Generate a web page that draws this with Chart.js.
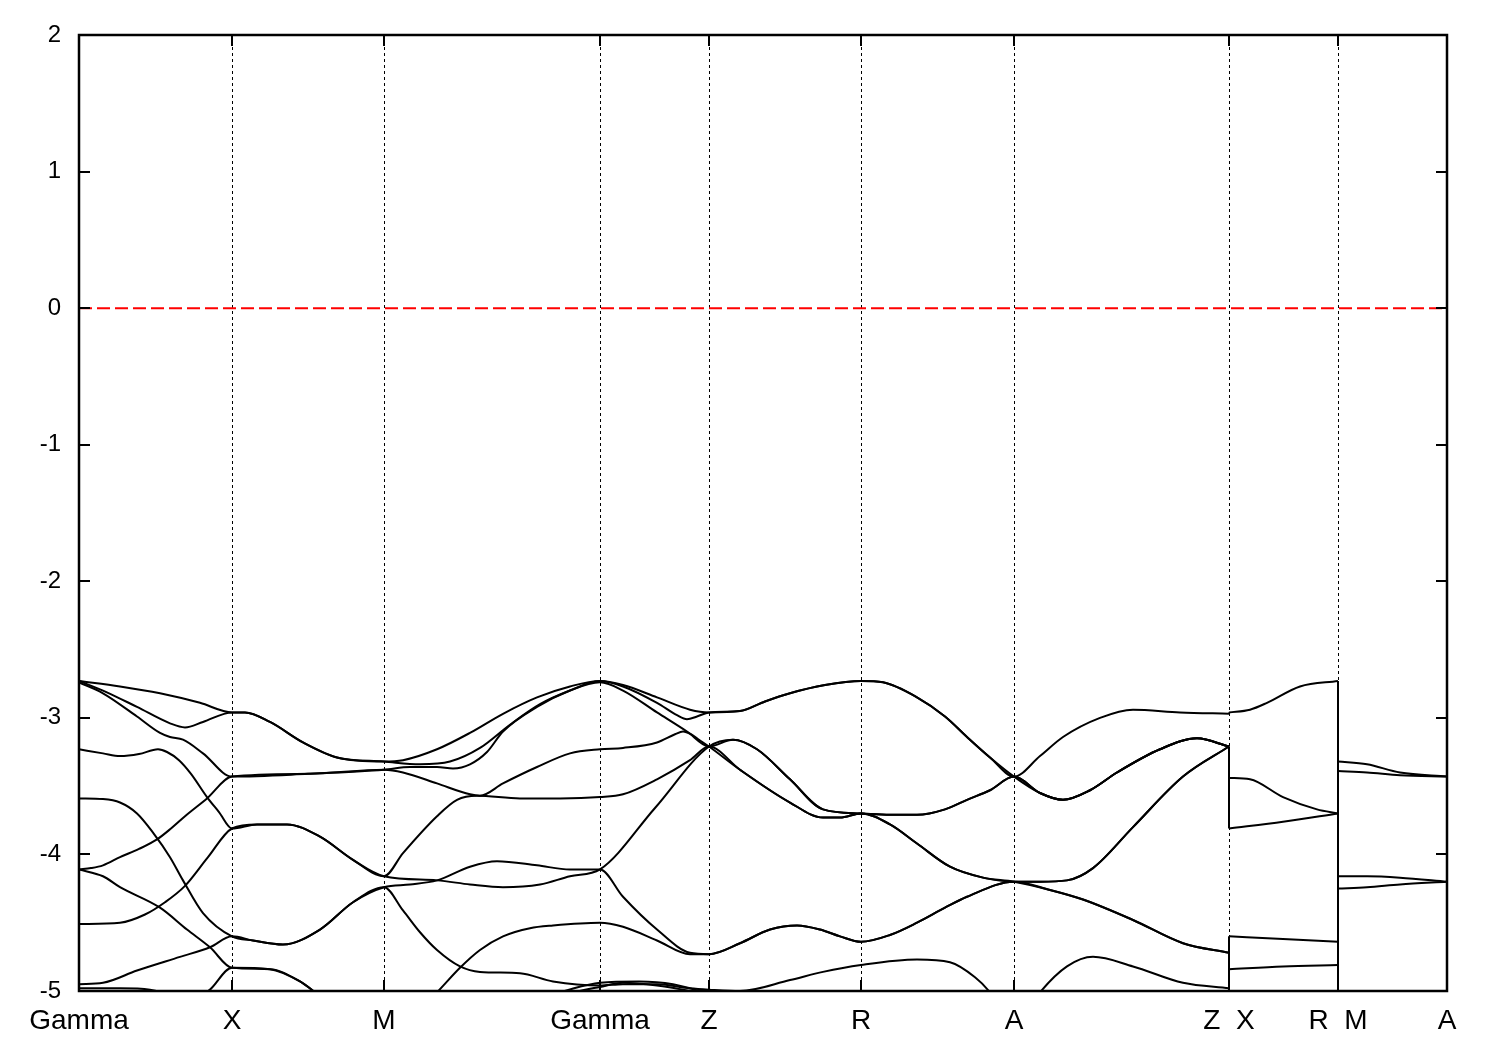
<!DOCTYPE html>
<html>
<head>
<meta charset="utf-8">
<script src="https://cdn.jsdelivr.net/npm/chart.js@4.4.0/dist/chart.umd.min.js"></script>
<style>
html,body{margin:0;padding:0;background:#fff;}
#wrap{width:1500px;height:1050px;}
</style>
</head>
<body>
<div id="wrap"><canvas id="c" width="1500" height="1050"></canvas></div>
<script>
// high-symmetry points along the k-path (path units) and their labels
const kPoints = [0, 153, 305, 521, 630, 782, 935, 1150, 1259, 1368];
const kLabels = ['Gamma', 'X', 'M', 'Gamma', 'Z', 'R', 'A', 'Z  X', 'R  M', 'A'];
const yTicks = [-5, -4, -3, -2, -1, 0, 1, 2];
const fermiLevel = 0;

// section Gamma-X-M-Gamma-Z-R-A-Z : [k, E(eV)]
const c1 = [[0,-2.73],[41,-2.77],[81,-2.82],[121,-2.89],[153,-2.96],[166,-2.96],[191,-3.03],[224,-3.18],[258,-3.29],[305,-3.32],[324,-3.31],[358,-3.23],[391,-3.11],[424,-2.97],[458,-2.85],[491,-2.77],[521,-2.73],[544,-2.76],[578,-2.85],[611,-2.94],[630,-2.96],[661,-2.95],[686,-2.88],[711,-2.82],[746,-2.76],[782,-2.73],[804,-2.74],[838,-2.85],[866,-2.99],[888,-3.14],[911,-3.29],[935,-3.43],[961,-3.28],[984,-3.14],[1021,-3.00],[1054,-2.94],[1101,-2.96],[1150,-2.97]];
const c2 = [[0,-2.73],[24,-2.80],[58,-2.92],[91,-3.04],[106,-3.07],[124,-3.03],[153,-2.96],[166,-2.96],[191,-3.03],[224,-3.18],[258,-3.29],[305,-3.32],[341,-3.34],[371,-3.32],[401,-3.22],[431,-3.05],[461,-2.90],[491,-2.80],[521,-2.73],[544,-2.77],[578,-2.89],[598,-2.98],[608,-3.01],[618,-2.99],[630,-2.96],[661,-2.95],[686,-2.88],[711,-2.82],[746,-2.76],[782,-2.73],[804,-2.74],[838,-2.85],[866,-2.99],[888,-3.14],[911,-3.29],[935,-3.43],[961,-3.55],[984,-3.60],[1011,-3.53],[1038,-3.40],[1081,-3.23],[1118,-3.15],[1150,-3.21]];
const c3 = [[0,-2.74],[24,-2.82],[58,-2.99],[81,-3.11],[91,-3.14],[104,-3.16],[124,-3.26],[153,-3.43],[229,-3.41],[305,-3.38],[331,-3.36],[358,-3.36],[374,-3.37],[391,-3.34],[408,-3.25],[424,-3.10],[458,-2.92],[491,-2.80],[521,-2.74],[544,-2.80],[578,-2.96],[608,-3.10],[630,-3.21],[654,-3.16],[678,-3.23],[711,-3.45],[744,-3.67],[782,-3.70],[811,-3.71],[838,-3.71],[866,-3.67],[888,-3.60],[911,-3.53],[935,-3.43],[961,-3.55],[984,-3.60],[1011,-3.53],[1038,-3.40],[1081,-3.23],[1118,-3.15],[1150,-3.21]];
const c4 = [[0,-4.11],[12,-4.10],[24,-4.08],[41,-4.02],[60,-3.96],[78,-3.89],[92,-3.81],[106,-3.72],[128,-3.59],[153,-3.43],[229,-3.41],[305,-3.38],[324,-3.40],[358,-3.48],[391,-3.56],[401,-3.57],[424,-3.48],[458,-3.36],[491,-3.26],[521,-3.23],[544,-3.22],[578,-3.18],[596,-3.12],[604,-3.10],[612,-3.12],[620,-3.16],[630,-3.21],[661,-3.38],[711,-3.62],[744,-3.73],[761,-3.73],[782,-3.70],[811,-3.78],[838,-3.92],[871,-4.09],[904,-4.17],[935,-4.20],[961,-4.20],[988,-4.19],[1014,-4.10],[1054,-3.80],[1104,-3.43],[1150,-3.21]];
const c5 = [[0,-3.23],[24,-3.26],[41,-3.28],[60,-3.265],[79,-3.23],[88,-3.25],[100,-3.31],[112,-3.41],[128,-3.58],[140,-3.69],[153,-3.81],[178,-3.78],[208,-3.78],[241,-3.87],[274,-4.04],[305,-4.16],[324,-3.99],[358,-3.72],[378,-3.60],[398,-3.57],[441,-3.59],[481,-3.59],[521,-3.58],[544,-3.56],[578,-3.45],[611,-3.31],[630,-3.21],[661,-3.38],[711,-3.62],[744,-3.73],[761,-3.73],[782,-3.70],[811,-3.78],[838,-3.92],[871,-4.09],[904,-4.17],[935,-4.20],[971,-4.26],[1004,-4.33],[1054,-4.48],[1104,-4.65],[1150,-4.72]];
const c6 = [[0,-4.51],[41,-4.50],[66,-4.44],[86,-4.35],[106,-4.23],[129,-4.02],[153,-3.81],[178,-3.78],[208,-3.78],[241,-3.87],[274,-4.04],[305,-4.16],[358,-4.19],[391,-4.22],[424,-4.24],[461,-4.22],[491,-4.16],[521,-4.11],[576,-3.66],[630,-3.21],[654,-3.16],[678,-3.23],[711,-3.45],[744,-3.67],[782,-3.70],[811,-3.71],[838,-3.71],[866,-3.67],[888,-3.60],[911,-3.53],[935,-3.43],[961,-3.55],[984,-3.60],[1011,-3.53],[1038,-3.40],[1081,-3.23],[1118,-3.15],[1150,-3.21]];
const c7 = [[0,-3.59],[24,-3.595],[41,-3.62],[58,-3.70],[74,-3.84],[91,-4.02],[104,-4.19],[124,-4.43],[153,-4.60],[174,-4.63],[204,-4.66],[241,-4.55],[274,-4.35],[305,-4.24],[331,-4.22],[358,-4.19],[391,-4.09],[418,-4.05],[458,-4.08],[491,-4.11],[521,-4.11],[544,-4.31],[578,-4.55],[611,-4.72],[630,-4.73],[661,-4.65],[691,-4.55],[718,-4.52],[741,-4.55],[761,-4.60],[782,-4.64],[811,-4.59],[838,-4.50],[866,-4.39],[888,-4.31],[935,-4.20],[961,-4.20],[988,-4.19],[1014,-4.10],[1054,-3.80],[1104,-3.43],[1150,-3.21]];
const c8 = [[0,-4.95],[24,-4.94],[58,-4.85],[101,-4.75],[131,-4.68],[153,-4.60],[174,-4.63],[204,-4.66],[241,-4.55],[274,-4.35],[305,-4.24],[324,-4.41],[341,-4.57],[358,-4.70],[381,-4.82],[401,-4.86],[441,-4.87],[474,-4.93],[521,-4.96],[544,-4.95],[578,-4.95],[611,-4.98],[630,-4.99],[661,-5.00],[711,-4.92],[744,-4.86],[782,-4.81],[838,-4.77],[871,-4.79],[896,-4.90],[911,-5.01],[935,-5.28],[961,-5.01],[988,-4.82],[1014,-4.75],[1054,-4.82],[1104,-4.94],[1150,-4.98]];
const c9 = [[0,-4.11],[24,-4.16],[41,-4.24],[81,-4.39],[108,-4.55],[131,-4.68],[153,-4.83],[191,-4.84],[221,-4.93],[236,-5.01],[256,-5.14],[305,-5.35],[336,-5.17],[358,-5.01],[381,-4.83],[401,-4.70],[424,-4.60],[451,-4.54],[474,-4.52],[521,-4.50],[544,-4.53],[578,-4.63],[611,-4.73],[630,-4.73],[661,-4.65],[691,-4.55],[718,-4.52],[741,-4.55],[761,-4.60],[782,-4.64],[811,-4.59],[838,-4.50],[866,-4.39],[888,-4.31],[935,-4.20],[971,-4.26],[1004,-4.33],[1054,-4.48],[1104,-4.65],[1150,-4.72]];
const c10 = [[0,-5.28],[71,-5.21],[111,-5.09],[131,-4.99],[153,-4.83],[191,-4.84],[221,-4.93],[236,-5.01],[256,-5.14],[305,-5.35],[380,-5.30],[441,-5.15],[490,-5.02],[521,-4.97],[544,-4.94],[578,-4.96],[611,-5.00],[630,-5.03],[700,-5.12],[782,-5.20],[935,-5.40],[1150,-5.10]];
const c11 = [[0,-4.98],[41,-4.98],[71,-4.99],[91,-5.03],[121,-5.14],[153,-5.30],[305,-5.50],[441,-5.10],[490,-4.99],[521,-4.94],[560,-4.93],[594,-4.95],[630,-5.02],[700,-5.15],[782,-5.30],[935,-5.45],[1150,-5.20]];

// section X-R
const x1 = [[1150,-2.96],[1171,-2.94],[1188,-2.89],[1221,-2.77],[1259,-2.73]];
const x2 = [[1150,-3.44],[1171,-3.45],[1204,-3.58],[1238,-3.67],[1259,-3.70]];
const x3 = [[1150,-3.81],[1204,-3.76],[1259,-3.70]];
const x4 = [[1150,-4.60],[1204,-4.62],[1259,-4.64]];
const x5 = [[1150,-4.84],[1204,-4.82],[1259,-4.81]];

// section M-A
const m1 = [[1259,-3.32],[1288,-3.34],[1321,-3.40],[1368,-3.43]];
const m2 = [[1259,-3.39],[1288,-3.40],[1321,-3.42],[1368,-3.43]];
const m3 = [[1259,-4.16],[1288,-4.16],[1321,-4.17],[1368,-4.20]];
const m4 = [[1259,-4.25],[1288,-4.24],[1321,-4.22],[1368,-4.20]];
const m5 = [[1259,-5.35],[1368,-5.35]];

const sec1 = [c1, c2, c3, c4, c5, c6, c7, c8, c9, c10, c11];
const sec2 = [x1, x2, x3, x4, x5];
const sec3 = [m1, m2, m3, m4, m5];
// band links across the path discontinuities: [from index, to index]
const jumpZX = [[0,0],[1,1],[2,2],[7,3],[4,4]];
const jumpRM = [[0,3],[1,0],[2,1],[3,4],[4,2]];

const LW = 2;
const toXY = arr => arr.map(([k, e]) => ({x: k, y: e}));
const bandStyle = {
  borderColor: '#000', borderWidth: LW, pointRadius: 0, fill: false,
  cubicInterpolationMode: 'monotone', capBezierPoints: false
};
const datasets = [];
[...sec1, ...sec2, ...sec3].forEach(b => datasets.push({...bandStyle, data: toXY(b)}));
function addJumps(links, from, to) {
  links.forEach(([i, j]) => {
    const a = from[i][from[i].length - 1];
    const b = to[j][0];
    datasets.push({borderColor: '#000', borderWidth: LW, pointRadius: 0, fill: false, tension: 0,
      data: [{x: a[0], y: a[1]}, {x: b[0], y: b[1]}]});
  });
}
addJumps(jumpZX, sec1, sec2);
addJumps(jumpRM, sec2, sec3);
datasets.push({
  borderColor: '#ff0000', borderWidth: 2, borderDash: [13, 5], pointRadius: 0, fill: false, tension: 0,
  data: [{x: kPoints[0], y: fermiLevel}, {x: kPoints[kPoints.length - 1], y: fermiLevel}]
});

const framePlugin = {
  id: 'frame',
  beforeDatasetsDraw(chart) {
    const {ctx, chartArea: a, scales: {x}} = chart;
    ctx.save();
    ctx.strokeStyle = '#000';
    ctx.lineWidth = 1;
    ctx.setLineDash([3, 3]);
    kPoints.forEach(v => {
      const px = Math.round(x.getPixelForValue(v)) + 0.5;
      ctx.beginPath(); ctx.moveTo(px, a.top); ctx.lineTo(px, a.bottom); ctx.stroke();
    });
    ctx.restore();
  },
  afterDatasetsDraw(chart) {
    const {ctx, chartArea: a, scales: {x, y}} = chart;
    ctx.save();
    ctx.strokeStyle = '#000';
    ctx.setLineDash([]);
    ctx.lineWidth = 2;
    const L = 11;
    yTicks.forEach(v => {
      const py = Math.round(y.getPixelForValue(v));
      ctx.beginPath();
      ctx.moveTo(a.left, py); ctx.lineTo(a.left + L, py);
      ctx.moveTo(a.right, py); ctx.lineTo(a.right - L, py);
      ctx.stroke();
    });
    kPoints.forEach(v => {
      const px = Math.round(x.getPixelForValue(v));
      ctx.beginPath();
      ctx.moveTo(px, a.bottom); ctx.lineTo(px, a.bottom - L);
      ctx.moveTo(px, a.top); ctx.lineTo(px, a.top + L);
      ctx.stroke();
    });
    ctx.lineWidth = 2.5;
    ctx.strokeRect(a.left, a.top, a.right - a.left, a.bottom - a.top);
    ctx.restore();
  }
};

Chart.defaults.font.family = "'Liberation Sans', Arial, sans-serif";
Chart.defaults.color = '#000';

new Chart(document.getElementById('c'), {
  type: 'line',
  data: {datasets},
  options: {
    responsive: false,
    animation: false,
    events: [],
    layout: {padding: {top: 35, right: 53, bottom: 0, left: 0}},
    plugins: {legend: {display: false}, tooltip: {enabled: false}},
    scales: {
      x: {
        type: 'linear',
        min: kPoints[0],
        max: kPoints[kPoints.length - 1],
        afterBuildTicks: s => { s.ticks = kPoints.map(v => ({value: v})); },
        afterFit: s => { s.height = 59; },
        grid: {display: false, drawTicks: false},
        border: {display: false},
        ticks: {
          autoSkip: false, maxRotation: 0, minRotation: 0, padding: 13,
          font: {size: 28},
          callback: (v) => kLabels[kPoints.indexOf(v)]
        }
      },
      y: {
        type: 'linear',
        min: -5,
        max: 2,
        afterBuildTicks: s => { s.ticks = yTicks.map(v => ({value: v})); },
        afterFit: s => { s.width = 79; },
        grid: {display: false, drawTicks: false},
        border: {display: false},
        ticks: {padding: 18, font: {size: 24}, callback: v => String(v)}
      }
    }
  },
  plugins: [framePlugin]
});
</script>
</body>
</html>
